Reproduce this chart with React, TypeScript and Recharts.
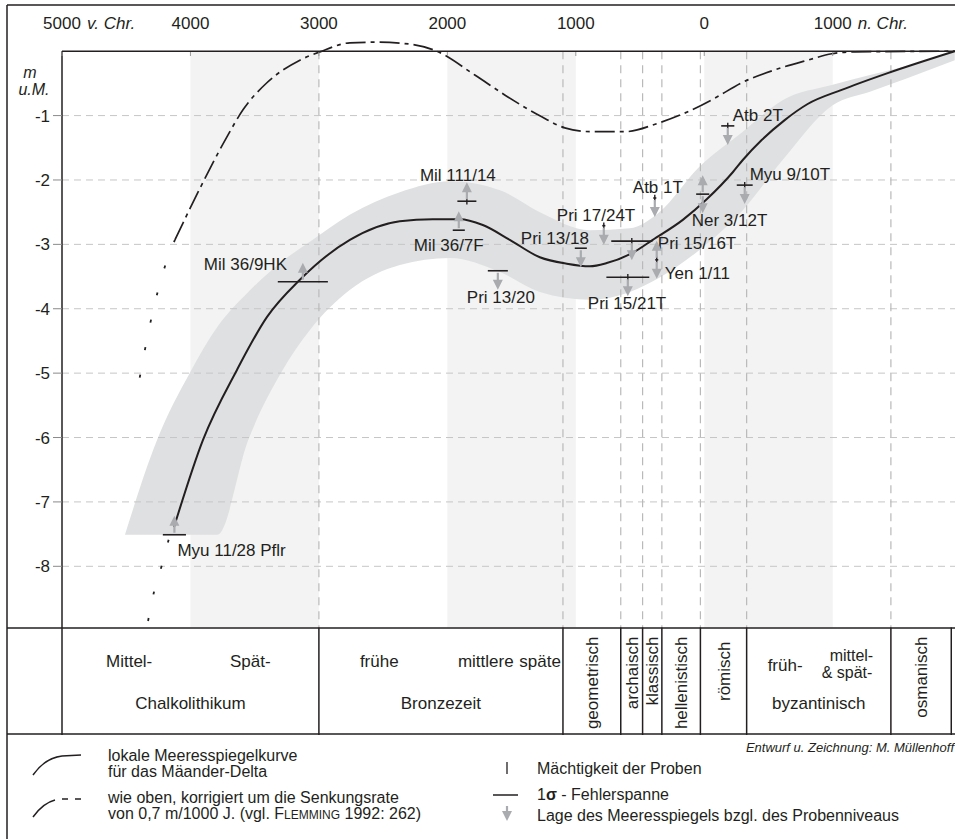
import React from 'react';
import {
  ComposedChart,
  Line,
  Area,
  Scatter,
  ErrorBar,
  XAxis,
  YAxis,
  ReferenceLine,
  ReferenceArea,
} from 'recharts';

const FONT = '"Liberation Sans", Arial, Helvetica, sans-serif';
const INK = '#231f20';
const ARROW = '#a9abae';

// years: negative = v. Chr.; levels in m below sea level
const curveYears = [-4128, -3903, -3638, -3405, -3148, -2759, -2370, -2113, -1903, -1724, -1514, -1280, -1070, -891, -759, -556, -401, -167, 19, 222, 300, 447, 626, 805, 1070, 1428, 1950];
const curveLevels = [-7.39, -6.04, -4.95, -4.13, -3.55, -2.93, -2.64, -2.61, -2.61, -2.7, -2.93, -3.2, -3.3, -3.34, -3.29, -3.13, -2.93, -2.62, -2.3, -1.88, -1.69, -1.38, -1.07, -0.82, -0.6, -0.34, 0];

// curve extrapolated below the oldest sample
const curveExtYears = [-4330, -4284, -4222, -4160];
const curveExtLevels = [-8.85, -8.4, -7.98, -7.51];

// curve corrected for subsidence (0,7 m / 1000 J.)
const correctedYears = [-4121, -3926, -3716, -3591, -3405, -3148, -2992, -2759, -2549, -2292, -2082, -1786, -1529, -1265, -1086, -876, -619, -362, -128, 82, 292, 549, 805, 992, 1171, 1950];
const correctedLevels = [-2.93, -2.13, -1.33, -0.91, -0.49, -0.14, -0.01, 0.13, 0.14, 0.11, 0.0, -0.37, -0.71, -1.02, -1.19, -1.25, -1.25, -1.12, -0.94, -0.73, -0.49, -0.29, -0.14, -0.04, -0.01, 0];

const correctedExtYears = [-4395, -4310, -4200, -4121];
const correctedExtLevels = [-5.07, -4.2, -3.35, -2.93];

// uncertainty band around the local curve
const bandYears = [-4510, -4260, -4000, -3790, -3550, -3290, -3070, -2760, -2370, -1980, -1590, -1280, -890, -580, -350, -40, 300, 610, 1000, 1290, 1580, 1950];
const bandLow = [-7.51, -7.51, -7.51, -7.51, -6.04, -4.98, -4.33, -3.71, -3.32, -3.21, -3.43, -3.74, -3.86, -3.74, -3.52, -3.09, -2.47, -1.69, -0.84, -0.63, -0.42, -0.14];
const bandHigh = [-7.51, -6.04, -4.98, -4.28, -3.74, -3.27, -2.96, -2.54, -2.19, -2.02, -2.16, -2.5, -2.78, -2.75, -2.5, -1.8, -1.25, -0.76, -0.52, -0.37, -0.23, -0.01];

// dated samples
const sampleNames = ['Myu 11/28 Pflr', 'Mil 36/9HK', 'Mil 111/14', 'Mil 36/7F', 'Pri 13/20', 'Pri 13/18', 'Pri 17/24T', 'Pri 15/16T', 'Pri 15/21T', 'Yen 1/11', 'Atb 1T', 'Ner 3/12T', 'Myu 9/10T', 'Atb 2T'];
const sampleYears = [-4125, -3125, -1848, -1911, -1607, -961, -782, -564, -595, -370, -385, -12, 315, 183];
const sampleLevels = [-7.51, -3.58, -2.33, -2.78, -3.41, -3.06, -2.71, -2.95, -3.51, -3.24, -2.28, -2.22, -2.08, -1.16];
const sampleSigma = [90, 195, 74, 47, 78, 47, 12, 160, 167, 12, 12, 51, 62, 51];
const sampleThickness = [0, 0, 0.05, 0, 0, 0, 0.05, 0.05, 0.05, 0.05, 0.05, 0, 0.05, 0.05];
const sampleArrows = ['up', 'up', 'up', 'up', 'down', 'down', 'down', 'down', 'down', 'both', 'down', 'both', 'down', 'down'];

// label placement next to each sample: [dx to text start, dy to text middle]
const labelOffsets = [[3, 15], [-99, -18], [-47, -26], [-45, 15], [-31, 26], [-60, -10], [-47, -11], [26, 2], [-40, 26], [8, 13], [-22, -11], [-11, 26], [5, -11], [5, -11]];

// cultural periods
const periodNames = ['Chalkolithikum', 'Bronzezeit', 'geometrisch', 'archaisch', 'klassisch', 'hellenistisch', 'römisch', 'byzantinisch', 'osmanisch'];
const periodStarts = [-5000, -3000, -1100, -650, -480, -330, -30, 330, 1453];
const periodEnds = [-3000, -1100, -650, -480, -330, -30, 330, 1453, 1923];
const periodPhases = [['Mittel-', 'Spät-'], ['frühe', 'mittlere', 'späte'], [], [], [], [], [], ['früh-', 'mittel-', '& spät-'], []];
// phase text layout inside a cell: [dx, baseline dy, anchor]
const phaseLayout: Record<string, [number, number, string][]> = {
  Chalkolithikum: [[44, 40, 'start'], [168, 40, 'start']],
  Bronzezeit: [[41, 40, 'start'], [139, 40, 'start'], [-2, 40, 'end']],
  byzantinisch: [[21, 44, 'start'], [83, 34, 'start'], [75, 51, 'start']],
};

const shadedFrom = [-4000, -2000, 0];
const shadedTo = [-3000, -1000, 1000];

const topTicks = [-5000, -4000, -3000, -2000, -1000, 0, 1000];
const levelTicks = [-1, -2, -3, -4, -5, -6, -7, -8];

const PLOT_BOTTOM = -8.95;
const TABLE_BOTTOM = -10.62;

function TopTick(props: any) {
  const { x, payload } = props;
  const v = payload.value;
  const suffix = v === -5000 ? 'v. Chr.' : v === 1000 ? 'n. Chr.' : null;
  return (
    <g>
      <line x1={x} x2={x} y1={52} y2={56} stroke="#999" strokeWidth={1} />
      <text x={x} y={29} textAnchor="middle" fontSize={17} fill={INK}>
        {Math.abs(v)}
      </text>
      {suffix && (
        <text x={x + 25} y={29} fontSize={17} fontStyle="italic" fill={INK}>
          {suffix}
        </text>
      )}
    </g>
  );
}

function Arrow({ x, y, dir }: { x: number; y: number; dir: number }) {
  const s0 = y + dir * 2;
  const s1 = y + dir * 9;
  const tip = y + dir * 19;
  return (
    <g>
      <line x1={x} x2={x} y1={s0} y2={s1 + dir} stroke={ARROW} strokeWidth={2.2} />
      <polygon points={`${x - 5},${s1} ${x + 5},${s1} ${x},${tip}`} fill={ARROW} />
    </g>
  );
}

function SampleMark(props: any) {
  const { cx, cy, payload } = props;
  if (cx == null || cy == null) return null;
  const [dx, dy] = labelOffsets[payload.idx];
  const a = payload.arrow;
  return (
    <g>
      {(a === 'up' || a === 'both') && <Arrow x={cx} y={cy} dir={-1} />}
      {(a === 'down' || a === 'both') && <Arrow x={cx} y={cy} dir={1} />}
      <text x={cx + dx} y={cy + dy + 6} fontSize={17} fill={INK}>
        {payload.name}
      </text>
    </g>
  );
}

function PeriodCell(props: any) {
  const { x, y, width, idx } = props;
  const name = periodNames[idx];
  const phases = periodPhases[idx];
  if (!phases.length) {
    const tx = x + width / 2 + 6;
    const ty = y + (name === 'römisch' ? 14 : 9);
    return (
      <text x={tx} y={ty} transform={`rotate(-90 ${tx} ${ty})`} textAnchor="end" fontSize={17} fill={INK}>
        {name}
      </text>
    );
  }
  const layout = phaseLayout[name];
  return (
    <g>
      {phases.map((p, k) => {
        const [dx, dy, anchor] = layout[k];
        const px = anchor === 'end' ? x + width + dx : x + dx;
        return (
          <text key={p} x={px} y={y + dy} textAnchor={anchor as any} fontSize={p === 'mittel-' || p === '& spät-' ? 16 : 17} fill={INK}>
            {p}
          </text>
        );
      })}
      <text x={x + width / 2} y={y + 82} textAnchor="middle" fontSize={17} fill={INK}>
        {name}
      </text>
    </g>
  );
}

export default function App() {
  const curve = curveYears.map((year, i) => ({ year, m: curveLevels[i] }));
  const curveExt = curveExtYears.map((year, i) => ({ year, m: curveExtLevels[i] }));
  const corrected = correctedYears.map((year, i) => ({ year, m: correctedLevels[i] }));
  const correctedExt = correctedExtYears.map((year, i) => ({ year, m: correctedExtLevels[i] }));
  const band = bandYears.map((year, i) => ({ year, range: [bandLow[i], bandHigh[i]] }));
  const samples = sampleNames.map((name, i) => ({
    name,
    idx: i,
    year: sampleYears[i],
    m: sampleLevels[i],
    sigma: sampleSigma[i],
    thick: sampleThickness[i],
    arrow: sampleArrows[i],
  }));
  const boundaries = periodStarts.slice(1).concat([periodEnds[periodEnds.length - 1]]);

  return (
    <div
      style={{
        position: 'absolute',
        left: 0,
        top: 0,
        width: 955,
        height: 839,
        overflow: 'hidden',
        background: '#fff',
        fontFamily: FONT,
      }}
    >
      <ComposedChart width={974} height={839} margin={{ top: 0, right: 0, bottom: 104, left: 42 }}>
        <XAxis
          dataKey="year"
          type="number"
          orientation="top"
          domain={[-5000, 2100]}
          allowDataOverflow
          ticks={topTicks}
          interval={0}
          height={19}
          axisLine={false}
          tickLine={false}
          tick={<TopTick />}
        />
        <YAxis
          type="number"
          domain={[TABLE_BOTTOM, 0.5]}
          allowDataOverflow
          ticks={levelTicks}
          interval={0}
          width={20}
          axisLine={false}
          tickSize={9}
          tickMargin={3}
          tickLine={{ stroke: '#8a8a8a' }}
          tick={{ fontSize: 17, fill: INK }}
        />

        {shadedFrom.map((from, i) => (
          <Area
            key={`shade-${from}`}
            data={[
              { year: from, span: [PLOT_BOTTOM, 0] },
              { year: shadedTo[i], span: [PLOT_BOTTOM, 0] },
            ]}
            dataKey="span"
            type="linear"
            stroke="none"
            fill="#f3f3f3"
            fillOpacity={1}
            dot={false}
            activeDot={false}
            isAnimationActive={false}
          />
        ))}

        <Area
          data={band}
          dataKey="range"
          type="monotone"
          stroke="none"
          fill="#dfe0e2"
          fillOpacity={1}
          dot={false}
          activeDot={false}
          isAnimationActive={false}
        />

        {levelTicks.map((v) => (
          <ReferenceLine key={`h${v}`} y={v} stroke="#c6c6c6" strokeDasharray="7 5" strokeWidth={1} />
        ))}

        {boundaries.slice(0, -1).map((b) => (
          <ReferenceLine
            key={`v${b}`}
            segment={[{ x: b, y: 0 }, { x: b, y: PLOT_BOTTOM }]}
            stroke="#b9b9b9"
            strokeDasharray="8 6"
            strokeWidth={1.2}
          />
        ))}

        {periodNames.map((name, i) => (
          <ReferenceArea
            key={name}
            x1={periodStarts[i]}
            x2={periodEnds[i]}
            y1={TABLE_BOTTOM}
            y2={PLOT_BOTTOM}
            shape={(p: any) => <PeriodCell {...p} idx={i} />}
          />
        ))}

        {boundaries.map((b) => (
          <ReferenceLine
            key={`t${b}`}
            segment={[{ x: b, y: PLOT_BOTTOM }, { x: b, y: TABLE_BOTTOM }]}
            stroke={INK}
            strokeWidth={1.5}
          />
        ))}
        <ReferenceLine
          segment={[{ x: -5000, y: 0 }, { x: -5000, y: TABLE_BOTTOM }]}
          stroke={INK}
          strokeWidth={1.5}
        />
        <ReferenceLine y={0} stroke={INK} strokeWidth={1.5} />

        <Line
          data={curveExt}
          dataKey="m"
          type="monotone"
          stroke={INK}
          strokeWidth={1.8}
          strokeDasharray="3 24"
          dot={false}
          activeDot={false}
          isAnimationActive={false}
        />
        <Line
          data={correctedExt}
          dataKey="m"
          type="monotone"
          stroke={INK}
          strokeWidth={1.8}
          strokeDasharray="3 25"
          dot={false}
          activeDot={false}
          isAnimationActive={false}
        />
        <Line
          data={corrected}
          dataKey="m"
          type="monotone"
          stroke={INK}
          strokeWidth={1.7}
          strokeDasharray="20 5 4 5"
          dot={false}
          activeDot={false}
          isAnimationActive={false}
        />
        <Line
          data={curve}
          dataKey="m"
          type="monotone"
          stroke={INK}
          strokeWidth={2}
          dot={false}
          activeDot={false}
          isAnimationActive={false}
        />

        <Scatter data={samples} dataKey="m" shape={SampleMark} isAnimationActive={false}>
          <ErrorBar dataKey="sigma" direction="x" width={0} stroke={INK} strokeWidth={1.6} />
          <ErrorBar dataKey="thick" direction="y" width={0} stroke={INK} strokeWidth={1.4} />
        </Scatter>
      </ComposedChart>

      <svg
        width={955}
        height={839}
        style={{ position: 'absolute', left: 0, top: 0, pointerEvents: 'none', fontFamily: FONT }}
      >
        {/* frame and table rules */}
        <line x1={7} x2={7} y1={5} y2={839} stroke={INK} strokeWidth={1.5} />
        <line x1={7} x2={955} y1={5} y2={5} stroke={INK} strokeWidth={1.5} />
        <line x1={7} x2={955} y1={628} y2={628} stroke={INK} strokeWidth={1.5} />
        <line x1={7} x2={955} y1={734} y2={734} stroke={INK} strokeWidth={1.5} />

        <text x={30} y={78} textAnchor="middle" fontSize={16} fontStyle="italic" fill={INK}>m</text>
        <text x={34} y={95} textAnchor="middle" fontSize={16} fontStyle="italic" fill={INK}>u.M.</text>

        {/* legend */}
        <path d="M33 775 Q45 758 62 756 L81 755" fill="none" stroke={INK} strokeWidth={1.5} />
        <text x={108} y={761} fontSize={16} fill={INK}>lokale Meeresspiegelkurve</text>
        <text x={108} y={777} fontSize={16} fill={INK}>für das Mäander-Delta</text>

        <path d="M33 817 Q43 803 55 800" fill="none" stroke={INK} strokeWidth={1.5} />
        <line x1={62} x2={68} y1={799} y2={799} stroke={INK} strokeWidth={1.5} />
        <line x1={75} x2={81} y1={799} y2={799} stroke={INK} strokeWidth={1.5} />
        <text x={108} y={803} fontSize={16} fill={INK}>wie oben, korrigiert um die Senkungsrate</text>
        <text x={108} y={819} fontSize={16} fill={INK}>
          von 0,7 m/1000 J. (vgl. F<tspan fontSize={12}>LEMMING</tspan> 1992: 262)
        </text>

        <text x={954} y={752} textAnchor="end" fontSize={13} fontStyle="italic" fill={INK}>
          Entwurf u. Zeichnung: M. Müllenhoff
        </text>
        <line x1={507} x2={507} y1={762} y2={774} stroke={INK} strokeWidth={1.3} />
        <text x={537} y={774} fontSize={16} fill={INK}>Mächtigkeit der Proben</text>
        <line x1={493} x2={518} y1={795} y2={795} stroke={INK} strokeWidth={1.5} />
        <text x={537} y={800} fontSize={16} fill={INK}>
          1<tspan fontWeight="bold">σ</tspan> - Fehlerspanne
        </text>
        <line x1={507} x2={507} y1={806} y2={813} stroke={ARROW} strokeWidth={2.2} />
        <polygon points="502,811 512,811 507,821" fill={ARROW} />
        <text x={537} y={821} fontSize={16} fill={INK}>Lage des Meeresspiegels bzgl. des Probenniveaus</text>
      </svg>
    </div>
  );
}
